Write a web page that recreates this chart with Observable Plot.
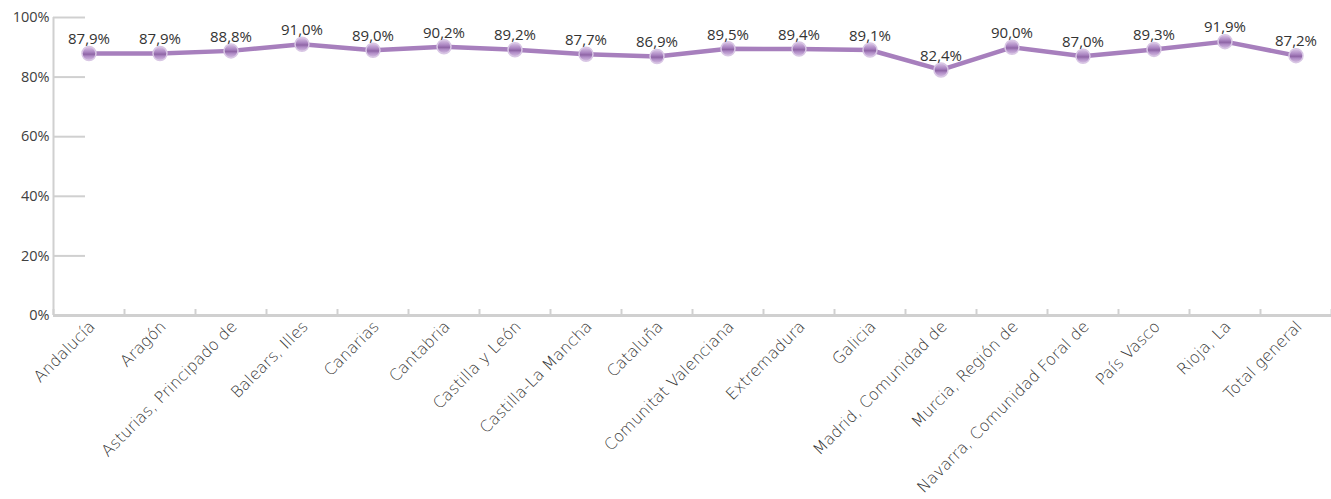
<!DOCTYPE html>
<html>
<head>
<meta charset="utf-8">
<script src="https://cdn.jsdelivr.net/npm/d3@7"></script>
<script src="https://cdn.jsdelivr.net/npm/@observablehq/plot@0.6"></script>
<style>
  html, body { margin: 0; padding: 0; background: #fff; }
  #chart svg { display: block; }
</style>
</head>
<body>
<div id="chart"></div>
<script>
const regions = ["Andalucía", "Aragón", "Asturias, Principado de", "Balears, Illes", "Canarias", "Cantabria", "Castilla y León", "Castilla-La Mancha", "Cataluña", "Comunitat Valenciana", "Extremadura", "Galicia", "Madrid, Comunidad de", "Murcia, Región de", "Navarra, Comunidad Foral de", "País Vasco", "Rioja, La", "Total general"];
const values = [87.9, 87.9, 88.8, 91.0, 89.0, 90.2, 89.2, 87.7, 86.9, 89.5, 89.4, 89.1, 82.4, 90.0, 87.0, 89.3, 91.9, 87.2];
const yTicks = [0, 20, 40, 60, 80, 100];

const data = regions.map((r, i) => ({region: r, value: values[i]}));

const W = 1331, H = 499, mL = 53, mR = 0, mT = 17, mB = 184;
const step = (W - mL - mR) / regions.length;
const axisColor = "#d0d0d0";
const lineColor = "#a77fbd";
const fmt = v => v.toFixed(1).replace(".", ",") + "%";

const chart = Plot.plot({
  width: W,
  height: H,
  marginLeft: mL,
  marginRight: mR,
  marginTop: mT,
  marginBottom: mB,
  style: {fontFamily: "'Open Sans', sans-serif", background: "#fff"},
  x: {type: "band", domain: regions, padding: 0, axis: null, label: null},
  y: {domain: [0, 100], axis: null, label: null},
  marks: [
    Plot.axisY(yTicks, {label: null, tickSize: -32, text: null, stroke: axisColor, strokeWidth: 2, strokeOpacity: 1}),
    Plot.axisY(yTicks, {label: null, tickSize: 0, tickPadding: 4, tickFormat: d => d + "%", fontSize: 14.5, fill: "#404040"}),
    Plot.ruleX([regions[0]], {dx: -step / 2, stroke: axisColor, strokeWidth: 2}),
    Plot.ruleY([0], {stroke: axisColor, strokeWidth: 3}),
    Plot.axisX(regions, {label: null, tickSize: -6, text: null, dx: -step / 2, anchor: "bottom", stroke: axisColor, strokeWidth: 2, strokeOpacity: 1}),
    Plot.axisX([regions[regions.length - 1]], {label: null, tickSize: -6, text: null, dx: step / 2, anchor: "bottom", stroke: axisColor, strokeWidth: 2, strokeOpacity: 1}),
    Plot.text(regions, {x: d => d, frameAnchor: "bottom", rotate: -45, textAnchor: "end", dy: 12, dx: 7, fontSize: 16, fill: "#333", fontFamily: "'DejaVu Sans', sans-serif", fontWeight: 200}),
    Plot.line(data, {x: "region", y: "value", stroke: lineColor, strokeWidth: 4.5}),
    Plot.dot(data, {x: "region", y: "value", r: 7, fill: "url(#mgrad)", stroke: "#d8c6e4", strokeWidth: 1.5}),
    Plot.text(data, {x: "region", y: "value", text: d => fmt(d.value), dy: -14, fontSize: 15, fill: "#333"})
  ]
});

// marker gradient definition
const ns = "http://www.w3.org/2000/svg";
const defs = document.createElementNS(ns, "defs");
const lg = document.createElementNS(ns, "linearGradient");
lg.setAttribute("id", "mgrad");
lg.setAttribute("x1", "0"); lg.setAttribute("y1", "0");
lg.setAttribute("x2", "0"); lg.setAttribute("y2", "1");
[["0", "#dcc9e8"], ["0.4", "#a983c0"], ["0.55", "#8f65a6"], ["0.7", "#b08cc6"], ["1", "#d6c0e3"]].forEach(([o, c]) => {
  const s = document.createElementNS(ns, "stop");
  s.setAttribute("offset", o); s.setAttribute("stop-color", c);
  lg.appendChild(s);
});
defs.appendChild(lg);
chart.insertBefore(defs, chart.firstChild);
document.getElementById("chart").append(chart);
</script>
</body>
</html>
